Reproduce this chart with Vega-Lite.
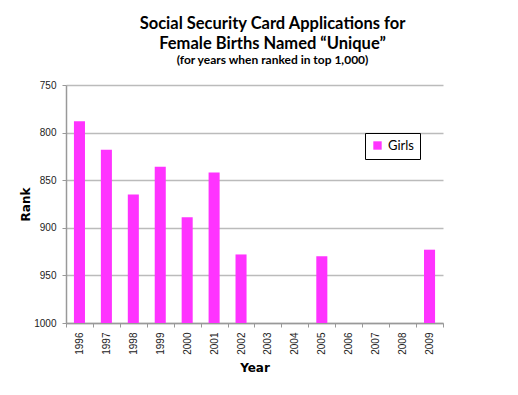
{
  "$schema": "https://vega.github.io/schema/vega-lite/v6.json",
  "autosize": {"type": "none"},
  "width": 377,
  "height": 238,
  "padding": {"left": 66, "top": 85, "right": 75, "bottom": 72},
  "background": "white",
  "title": {
    "text": ["Social Security Card Applications for", "Female Births Named “Unique”"],
    "subtitle": "(for years when ranked in top 1,000)",
    "anchor": "middle",
    "frame": "group",
    "dx": 18,
    "font": "Lato",
    "fontSize": 16.5,
    "fontWeight": "bold",
    "lineHeight": 20,
    "color": "black",
    "subtitleFont": "Lato",
    "subtitleFontSize": 12,
    "subtitleFontWeight": "bold",
    "subtitleColor": "black",
    "subtitlePadding": 3,
    "offset": 14
  },
  "data": {
    "values": [
      {"year": "1996", "rank": 788, "series": "Girls"},
      {"year": "1997", "rank": 818, "series": "Girls"},
      {"year": "1998", "rank": 865, "series": "Girls"},
      {"year": "1999", "rank": 836, "series": "Girls"},
      {"year": "2000", "rank": 889, "series": "Girls"},
      {"year": "2001", "rank": 842, "series": "Girls"},
      {"year": "2002", "rank": 928, "series": "Girls"},
      {"year": "2005", "rank": 930, "series": "Girls"},
      {"year": "2009", "rank": 923, "series": "Girls"}
    ]
  },
  "mark": {"type": "bar", "width": {"band": 0.41}},
  "encoding": {
    "x": {
      "field": "year",
      "type": "ordinal",
      "scale": {
        "domain": ["1996","1997","1998","1999","2000","2001","2002","2003","2004","2005","2006","2007","2008","2009"],
        "paddingInner": 0,
        "paddingOuter": 0
      },
      "axis": {
        "title": "Year",
        "titleFont": "DejaVu Sans",
        "titleFontSize": 12,
        "titleFontWeight": "bold",
        "titleColor": "black",
        "titlePadding": 8,
        "labelAngle": -90,
        "labelAlign": "right",
        "labelBaseline": "middle",
        "labelFont": "Liberation Sans",
        "labelFontSize": 10,
        "labelColor": "#222",
        "labelPadding": 5,
        "tickBand": "extent",
        "tickSize": 4,
        "tickColor": "#999",
        "domainColor": "#999",
        "domainWidth": 1.5,
        "grid": false
      }
    },
    "y": {
      "field": "rank",
      "type": "quantitative",
      "scale": {"domain": [750, 1000], "reverse": true, "zero": false, "nice": false},
      "axis": {
        "title": "Rank",
        "titleFont": "DejaVu Sans",
        "titleFontSize": 12,
        "titleFontWeight": "bold",
        "titleColor": "black",
        "titlePadding": 1,
        "values": [750, 800, 850, 900, 950, 1000],
        "format": "d",
        "labelFont": "Liberation Sans",
        "labelFontSize": 10,
        "labelColor": "#222",
        "labelPadding": 6,
        "tickSize": 4,
        "tickColor": "#999",
        "domainColor": "#999",
        "domainWidth": 1.5,
        "grid": true,
        "gridColor": "#BBBBBB",
        "gridWidth": 1.5
      }
    },
    "y2": {"datum": 1000},
    "color": {
      "field": "series",
      "type": "nominal",
      "scale": {"range": ["#FF33FF"]},
      "legend": {
        "title": null,
        "orient": "none",
        "legendX": 299,
        "legendY": 48,
        "strokeColor": "black",
        "fillColor": "white",
        "padding": 6,
        "symbolType": "square",
        "symbolSize": 70,
        "symbolStrokeWidth": 0,
        "labelFont": "Lato",
        "labelFontSize": 13,
        "labelColor": "black"
      }
    }
  },
  "config": {"view": {"stroke": null}}
}
